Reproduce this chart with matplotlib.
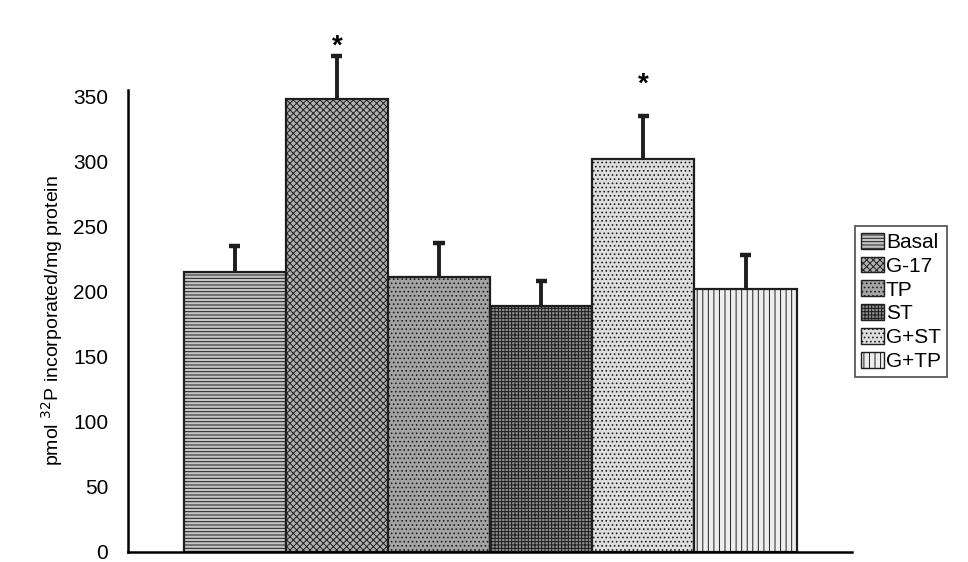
import matplotlib.pyplot as plt
from matplotlib.patches import Patch

# -------------------- DATA --------------------
groups = ["Basal", "G-17", "TP", "ST", "G+ST", "G+TP"]
values = [215, 348, 211, 189, 302, 202]
errors = [20, 33, 26, 19, 33, 26]
star_y = [None, 388, None, None, 359, None]   # significance marks

# -------------------- STYLE --------------------
plt.rcParams["font.family"] = ["Liberation Sans", "DejaVu Sans"]
plt.rcParams["hatch.linewidth"] = 0.7
faces = ["#c4c4c4", "#b0b0b0", "#a4a4a4", "#8c8c8c", "#dedede", "#eeeeee"]
hatches = ["-----", "xxxxx", "....", "+++++", "....", "|||"]
ink = "#1e1e1e"

fig = plt.figure(figsize=(9.68, 5.62), dpi=100)
ax = fig.add_axes([0.132, 0.018, 0.748, 0.822])

x = list(range(len(groups)))
for i in x:
    ax.bar(i, values[i], width=1.0, color=faces[i], edgecolor=ink,
           hatch=hatches[i], linewidth=1.6)
    top = values[i] + errors[i]
    ax.vlines(i, values[i], top, color=ink, linewidth=2.8, clip_on=False)
    ax.plot([i - 0.055, i + 0.055], [top, top], color=ink, linewidth=3.2,
            solid_capstyle="butt", clip_on=False)
    if star_y[i] is not None:
        ax.text(i, star_y[i], "*", ha="center", va="center",
                fontsize=20, fontweight="bold", clip_on=False)

ax.set_xlim(-1.046, 6.04)
ax.set_ylim(0, 355)
ax.set_yticks(range(0, 351, 50))
ax.set_xticks([])
ax.tick_params(axis="y", length=0, labelsize=15, pad=14)
ax.spines["top"].set_visible(False)
ax.spines["right"].set_visible(False)
ax.spines["left"].set_linewidth(1.8)
ax.spines["bottom"].set_linewidth(1.8)
ax.set_ylabel("pmol $^{32}$P incorporated/mg protein", fontsize=14, labelpad=6)

# -------------------- LEGEND --------------------
handles = [Patch(facecolor=faces[i], edgecolor=ink, hatch=hatches[i],
                 label=groups[i]) for i in x]
leg = fig.legend(handles=handles, loc="upper left", bbox_to_anchor=(0.883, 0.597),
                 fontsize=15, frameon=True, fancybox=False, handlelength=1.1,
                 handleheight=0.8, handletextpad=0.1, labelspacing=0.22,
                 borderpad=0.3, borderaxespad=0)
leg.get_frame().set_edgecolor(ink)
leg.get_frame().set_linewidth(1.2)

fig.savefig("out.png", dpi=100)
